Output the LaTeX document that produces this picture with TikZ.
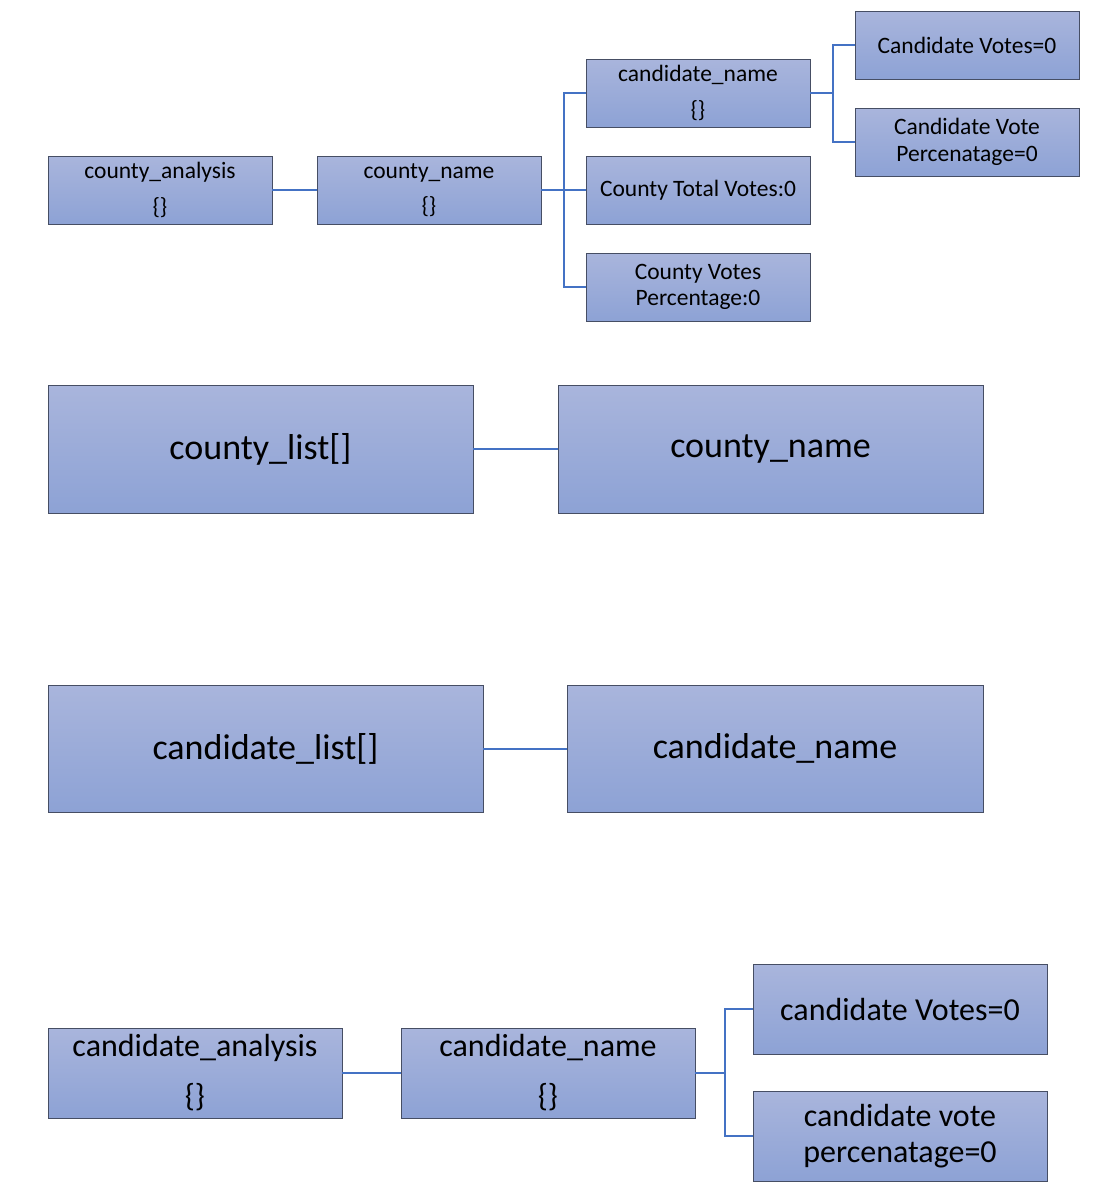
\documentclass[tikz,border=0pt]{standalone}
\usepackage{fontspec}
\setmainfont{Carlito}
\definecolor{boxtop}{RGB}{169,181,220}
\definecolor{boxbot}{RGB}{141,162,213}
\definecolor{boxline}{RGB}{70,78,100}
\definecolor{linkblue}{RGB}{68,114,196}

\begin{document}
\begin{tikzpicture}[x=1pt, y=-1pt,
    box/.style={draw=boxline, line width=0.8pt, top color=boxtop, bottom color=boxbot,
        inner sep=0pt, align=center},
    small/.style={box, minimum width=224, minimum height=68, font=\fontsize{23.5}{26.5}\selectfont},
    big/.style={box, minimum height=128, font=\fontsize{36}{42}\selectfont},
    mid/.style={box, minimum width=294, minimum height=90, font=\fontsize{32}{36}\selectfont},
    link/.style={draw=linkblue, line width=2pt}]
\useasboundingbox (0,0) rectangle (1094,1192);

% county_analysis tree
\node[small] (ca) at (160,190) {county\_analysis\\[9pt]\{\}};
\node[small] (cn) at (429,190) {county\_name\\[9pt]\{\}};
\node[small] (cand) at (698,93) {candidate\_name\\[9pt]\{\}};
\node[small] (tot) at (698,190) {County Total Votes:0};
\node[small] (pct) at (698,287) {County Votes\\Percentage:0};
\node[small] (cvotes) at (967,45) {Candidate Votes=0};
\node[small] (cperc) at (967,142) {Candidate Vote\\Percenatage=0};

\draw[link] (ca.east) -- (cn.west);
\draw[link] (cn.east) -- ++(23,0) |- (cand.west);
\draw[link] (cn.east) -- (tot.west);
\draw[link] (cn.east) -- ++(23,0) |- (pct.west);
\draw[link] (cand.east) -- ++(23,0) |- (cvotes.west);
\draw[link] (cand.east) -- ++(23,0) |- (cperc.west);

% county_list
\node[big, minimum width=425] (clist) at (260.5,449) {county\_list[]};
\node[big, minimum width=425] (cname) at (770.5,449) {county\_name};
\draw[link] (clist.east) -- (cname.west);

% candidate_list
\node[big, minimum width=435, minimum height=127] (dlist) at (265.5,748.5) {candidate\_list[]};
\node[big, minimum width=416, minimum height=127] (dname) at (775,748.5) {candidate\_name};
\draw[link] (dlist.east) -- (dname.west);

% candidate_analysis tree
\node[mid] (da) at (195,1073) {candidate\_analysis\\[14pt]\{\}};
\node[mid] (dn) at (548,1073) {candidate\_name\\[14pt]\{\}};
\node[mid] (dvotes) at (900,1009) {candidate Votes=0};
\node[mid] (dperc) at (900,1136) {candidate vote\\percenatage=0};

\draw[link] (da.east) -- (dn.west);
\draw[link] (dn.east) -- ++(30,0) |- (dvotes.west);
\draw[link] (dn.east) -- ++(30,0) |- (dperc.west);

\end{tikzpicture}
\end{document}
